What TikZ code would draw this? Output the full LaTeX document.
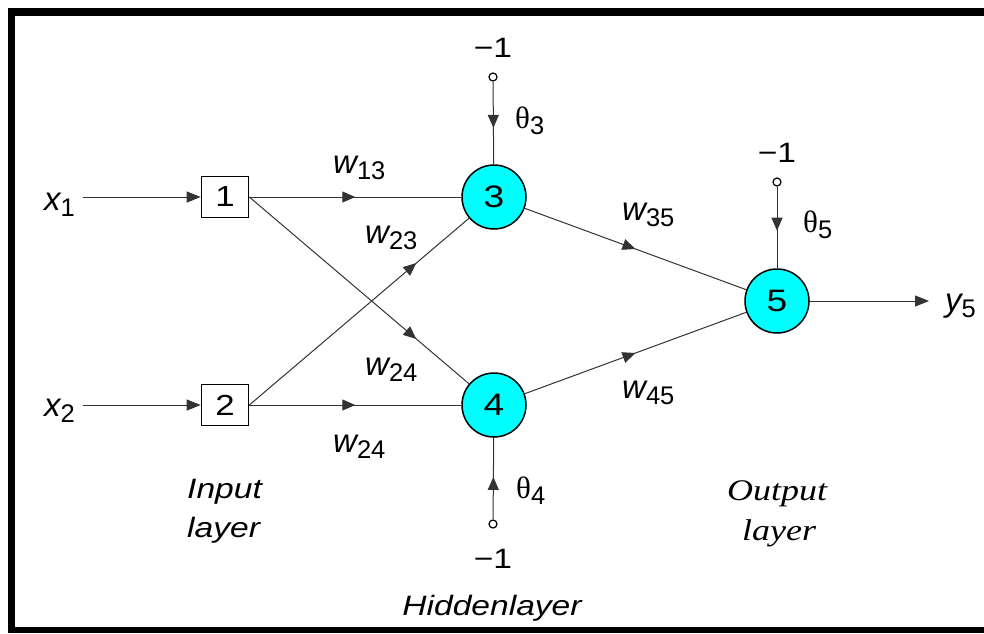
\documentclass[tikz,border=0pt]{standalone}
\usepackage{fontspec}
\setmainfont[FakeStretch=1.2]{Liberation Sans}
\newfontfamily\serifit[FakeStretch=1.2]{Liberation Serif}
\newfontfamily\plainsans{Liberation Sans}
\newfontfamily\plainserif{Liberation Serif}
\usetikzlibrary{arrows.meta,decorations.markings}
\definecolor{aqua}{RGB}{0,255,255}
\newcommand{\lbsub}[2]{{\plainsans\itshape #1}\raisebox{-6.5pt}{\plainsans\fontsize{25.5}{25}\selectfont #2}}
\newcommand{\thsub}[1]{{\plainserif\fontsize{31}{31}\selectfont θ}\raisebox{-6.5pt}{\plainsans\fontsize{25.5}{25}\selectfont #1}}
\tikzset{
  edge/.style={draw=black!80, line width=1pt},
  tip/.style={-{Triangle[length=14pt,width=11pt]}},
  midarrow/.style={postaction={decorate},decoration={markings,
     mark=at position #1 with {\arrow{Triangle[length=13pt,width=11pt]}}}},
  inbox/.style={draw, line width=1.6pt, minimum width=47pt, minimum height=41pt, inner sep=0pt, font=\fontsize{29}{30}\selectfont},
  neuron/.style={circle, draw, fill=aqua, line width=1.5pt, minimum size=64pt, inner sep=0pt, font=\fontsize{31}{32}\selectfont},
  biasdot/.style={circle, draw, fill=white, line width=1.2pt, minimum size=8pt, inner sep=0pt},
  lbl/.style={inner sep=0pt, anchor=base west, font=\fontsize{33}{36}\selectfont},
  mone/.style={inner sep=0pt, anchor=base, font=\fontsize{28}{30}\selectfont},
  layer/.style={inner sep=0pt, anchor=base west, font=\fontsize{28}{30}\selectfont\itshape},
}
\begin{document}
\begin{tikzpicture}[x=1pt,y=-1pt]
\useasboundingbox (0,0) rectangle (984,633);
% frame
\fill[black] (8,8) rectangle (984,16);
\fill[black] (8,8) rectangle (15,633);
\fill[black] (8,627) rectangle (984,633);

% nodes
\node[inbox] (b1) at (225,197) {1};
\node[inbox] (b2) at (225,405) {2};
\node[neuron] (n3) at (494,197) {3};
\node[neuron] (n4) at (494,405) {4};
\node[neuron] (n5) at (777,301) {5};

\node[biasdot] (t3) at (493,77) {};
\node[biasdot] (t4) at (493,524) {};
\node[biasdot] (t5) at (777,182) {};

\coordinate (x1s) at (83,197);
\coordinate (x2s) at (83,405);
\coordinate (y5e) at (929,301);

% labels
\node[lbl] (lx1) at (44,210) {\lbsub{x}{1}};
\node[lbl] (lx2) at (44,416) {\lbsub{x}{2}};
\node[lbl] (ly5) at (945,311) {\lbsub{y}{5}};
\node[lbl] (lw13) at (333,173) {\lbsub{w}{13}};
\node[lbl] (lw23) at (365,243) {\lbsub{w}{23}};
\node[lbl] (lw24a) at (365,375) {\lbsub{w}{24}};
\node[lbl] (lw24b) at (333,452) {\lbsub{w}{24}};
\node[lbl] (lw35) at (622,220) {\lbsub{w}{35}};
\node[lbl] (lw45) at (622,398) {\lbsub{w}{45}};

\node[lbl] (th3) at (515,128) {\thsub{3}};
\node[lbl] (th5) at (803,232) {\thsub{5}};
\node[lbl] (th4) at (516,498) {\thsub{4}};

\node[mone] (m3) at (493,57) {−1};
\node[mone] (m5) at (777,162) {−1};
\node[mone] (m4) at (493,568) {−1};

\node[layer] (il1) at (187,498) {Input};
\node[layer] (il2) at (187,537) {layer};
\node[layer, anchor=base] (hl) at (492,615) {Hiddenlayer};
\node[inner sep=0pt, anchor=base west, font=\serifit\fontsize{30}{32}\selectfont\itshape] (ol1) at (727,500) {Output};
\node[inner sep=0pt, anchor=base west, font=\serifit\fontsize{30}{32}\selectfont\itshape] (ol2) at (742,540) {layer};

% connectors
\draw[edge, tip] (x1s) -- (b1.west);
\draw[edge, tip] (x2s) -- (b2.west);
\draw[edge, midarrow=0.5] (b1.east) -- (n3);
\draw[edge, midarrow=0.5] (b2.east) -- (n4);
\draw[edge, midarrow=0.76] (b1.east) -- (n4);
\draw[edge, midarrow=0.76] (b2.east) -- (n3);
\draw[edge, midarrow=0.5] (n3) -- (n5);
\draw[edge, midarrow=0.5] (n4) -- (n5);
\draw[edge, tip] (n5) -- (y5e);
\draw[edge, midarrow=0.56] (t3) -- (n3);
\draw[edge, midarrow=0.54] (t5) -- (n5);
\draw[edge, midarrow=0.52] (t4) -- (n4);
\end{tikzpicture}
\end{document}
